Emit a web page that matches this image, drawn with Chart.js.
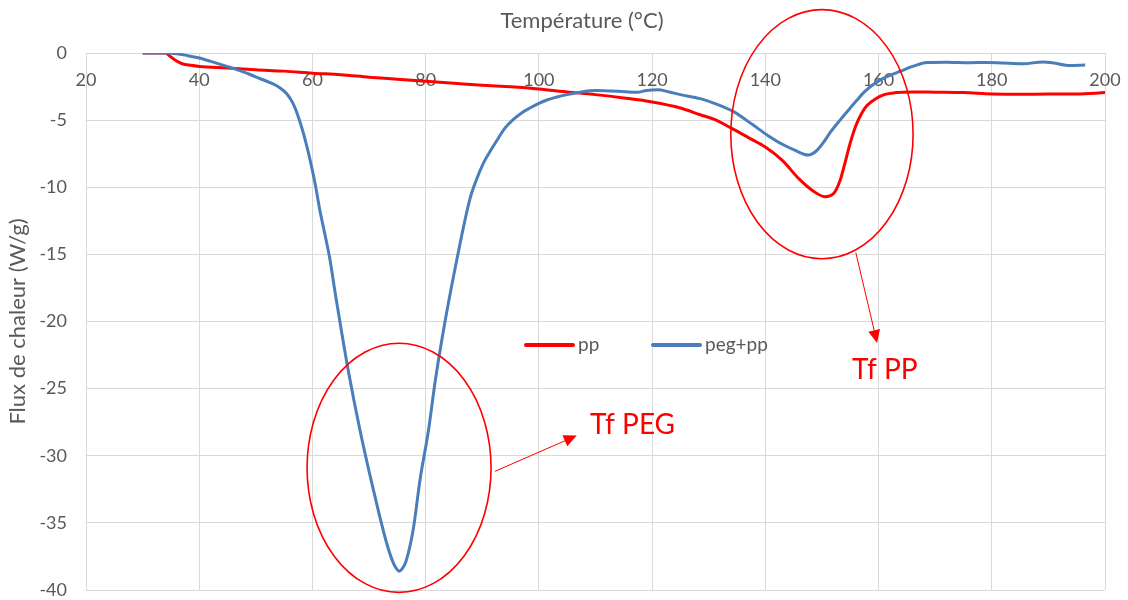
<!DOCTYPE html>
<html><head><meta charset="utf-8">
<script src="https://cdn.jsdelivr.net/npm/chart.js@4/dist/chart.umd.min.js"></script>
<style>html,body{margin:0;padding:0;background:#fff}#wrap{width:1128px;height:600px}</style>
</head><body><div id="wrap"><canvas id="c" width="1128" height="600"></canvas></div>
<script>
// ---- data ----
const seriesNames = ['pp', 'peg+pp'];
const ppTemp = [30,34,35,36,37,38.5,40,45,50,55,60,65,70,75,80,85,90,95,100,105,110,115,120,125,128.5,131,134,137,140,143,146,148.5,150.5,152,153.2,154,155,156,157,158,159.5,161,163,166,170,175,180,185,190,195,200];
const ppFlux = [0,0,-0.3,-0.6,-0.8,-0.92,-1.0,-1.12,-1.25,-1.35,-1.5,-1.62,-1.8,-1.95,-2.1,-2.25,-2.4,-2.52,-2.68,-2.9,-3.1,-3.35,-3.65,-4.1,-4.6,-4.95,-5.6,-6.3,-7.0,-8.0,-9.4,-10.3,-10.7,-10.5,-9.5,-8.3,-6.7,-5.4,-4.5,-3.9,-3.4,-3.1,-2.95,-2.9,-2.92,-2.95,-3.05,-3.08,-3.05,-3.05,-2.95];
const pegTemp = [30,34,36,38,40,43,46,49,50.7,52.5,54.3,55.5,56.5,57.3,58,58.8,59.6,60.5,61.3,62.2,63.1,64.1,65.2,66.3,68.4,70.8,73.1,74.3,74.9,75.3,75.8,76.5,77.8,79.0,80.5,81.7,83.0,85.5,87.8,89,90.2,91.5,92.6,94,95.5,97,98.4,100,101.4,103,105,107.5,110,114,117.3,119,121,123,125,128.5,131,134.3,137.8,140.3,143,145,147.6,149,150.2,151.5,153.2,155,156.2,157.5,159,161,163.8,166,168.6,172,176,179.2,182,185.5,189,191,193.8,196.5];
const pegFlux = [0,0,-0.05,-0.2,-0.37,-0.75,-1.15,-1.6,-1.9,-2.2,-2.6,-3.05,-3.7,-4.5,-5.4,-6.6,-8.0,-9.8,-11.7,-13.5,-15.4,-18.1,-20.9,-23.6,-28.1,-32.6,-36.5,-38.0,-38.45,-38.6,-38.45,-37.9,-35.5,-31.8,-28.1,-24.4,-21.0,-15.4,-10.9,-9.4,-8.2,-7.25,-6.5,-5.6,-4.95,-4.45,-4.1,-3.75,-3.5,-3.3,-3.1,-2.9,-2.8,-2.85,-2.93,-2.8,-2.74,-2.9,-3.1,-3.4,-3.75,-4.35,-5.35,-6.1,-6.8,-7.2,-7.6,-7.3,-6.7,-5.9,-5.0,-4.1,-3.5,-2.9,-2.36,-1.85,-1.37,-1.0,-0.7,-0.68,-0.72,-0.7,-0.75,-0.8,-0.67,-0.75,-0.94,-0.9];
const xTitle = 'Température (°C)';
const yTitle = 'Flux de chaleur (W/g)';
const noteLabels = ['Tf PEG', 'Tf PP'];

// ---- annotation geometry (in data units) ----
const notes = [
  { ellipse: {x: 75.3, y: -30.9, rx: 16.25, ry: 9.28}, arrow: {x1: 92.3, y1: -31.15, x2: 106.7, y2: -28.5}, text: {x: 109.05, y: -27.7}, label: noteLabels[0] },
  { ellipse: {x: 150.0, y: -6.05, rx: 16.1, ry: 9.28}, arrow: {x1: 156.0, y1: -14.9, x2: 159.75, y2: -21.6}, text: {x: 155.3, y: -23.6}, label: noteLabels[1] }
];

const toPts = (xs, ys) => xs.map((x, i) => ({x, y: ys[i]}));
const FONT = 'Lato, "Open Sans", sans-serif';
const GRAY = '#595959';
const GRID = '#D9D9D9';
const colors = ['#FF0000', '#4A7EBB'];

const overlay = {
  id: 'overlay',
  afterDraw(chart) {
    const ctx = chart.ctx, xs = chart.scales.x, ys = chart.scales.y;
    ctx.save();
    // top axis title
    ctx.fillStyle = GRAY;
    ctx.font = '22px ' + FONT;
    ctx.textAlign = 'center';
    ctx.textBaseline = 'middle';
    ctx.fillText(xTitle, 582, 21);
    // legend
    const leg = [{x: 526, y: 345}, {x: 653, y: 345}];
    chart.data.datasets.forEach((ds, i) => {
      ctx.strokeStyle = ds.borderColor;
      ctx.lineWidth = 4;
      ctx.lineCap = 'round';
      ctx.beginPath();
      ctx.moveTo(leg[i].x, leg[i].y);
      ctx.lineTo(leg[i].x + 47, leg[i].y);
      ctx.stroke();
      ctx.fillStyle = GRAY;
      ctx.textAlign = 'left';
      ctx.font = '19px ' + FONT;
      ctx.fillText(ds.label, leg[i].x + 52, leg[i].y);
    });
    // annotations
    notes.forEach(n => {
      const cx = xs.getPixelForValue(n.ellipse.x), cy = ys.getPixelForValue(n.ellipse.y);
      const rx = Math.abs(xs.getPixelForValue(n.ellipse.x + n.ellipse.rx) - cx);
      const ry = Math.abs(ys.getPixelForValue(n.ellipse.y + n.ellipse.ry) - cy);
      ctx.strokeStyle = '#FF0000';
      ctx.lineWidth = 1.6;
      ctx.beginPath();
      ctx.ellipse(cx, cy, rx, ry, 0, 0, Math.PI * 2);
      ctx.stroke();
      const x1 = xs.getPixelForValue(n.arrow.x1), y1 = ys.getPixelForValue(n.arrow.y1);
      const x2 = xs.getPixelForValue(n.arrow.x2), y2 = ys.getPixelForValue(n.arrow.y2);
      const ang = Math.atan2(y2 - y1, x2 - x1);
      const hl = 13, hw = 6;
      const bx = x2 - hl * Math.cos(ang), by = y2 - hl * Math.sin(ang);
      ctx.lineWidth = 1;
      ctx.beginPath();
      ctx.moveTo(x1, y1); ctx.lineTo(bx, by); ctx.stroke();
      ctx.fillStyle = '#FF0000';
      ctx.beginPath();
      ctx.moveTo(x2, y2);
      ctx.lineTo(bx + hw * Math.sin(ang), by - hw * Math.cos(ang));
      ctx.lineTo(bx - hw * Math.sin(ang), by + hw * Math.cos(ang));
      ctx.closePath(); ctx.fill();
      ctx.font = '28px ' + FONT;
      ctx.textAlign = 'left';
      ctx.textBaseline = 'middle';
      ctx.fillText(n.label, xs.getPixelForValue(n.text.x), ys.getPixelForValue(n.text.y));
    });
    ctx.restore();
  }
};

new Chart(document.getElementById('c'), {
  type: 'line',
  data: {
    datasets: [
      { label: seriesNames[0], data: toPts(ppTemp, ppFlux), borderColor: colors[0], backgroundColor: colors[0], borderWidth: 3, pointRadius: 0, cubicInterpolationMode: 'monotone', order: 1 },
      { label: seriesNames[1], data: toPts(pegTemp, pegFlux), borderColor: colors[1], backgroundColor: colors[1], borderWidth: 3, pointRadius: 0, cubicInterpolationMode: 'monotone', order: 0 }
    ]
  },
  options: {
    responsive: false,
    animation: false,
    devicePixelRatio: 1,
    layout: { padding: { top: 53, right: 23, bottom: 10, left: 0 } },
    plugins: { legend: { display: false }, tooltip: { enabled: false } },
    scales: {
      x: {
        type: 'linear', min: 20, max: 200,
        position: { y: 0 },
        afterFit: s => { s.height = 0; s.paddingLeft = 0; s.paddingRight = 0; },
        ticks: { stepSize: 20, color: GRAY, font: { family: FONT, size: 18 }, padding: 16, maxRotation: 0 },
        grid: { color: GRID, drawTicks: false, lineWidth: 1 },
        border: { color: GRID }
      },
      y: {
        type: 'linear', min: -40, max: 0,
        position: 'left',
        afterFit: s => { s.width = 86; s.paddingTop = 0; s.paddingBottom = 0; },
        ticks: { stepSize: 5, color: GRAY, font: { family: FONT, size: 18 }, padding: 19 },
        grid: { color: GRID, drawTicks: false, lineWidth: 1 },
        border: { color: GRID },
        title: { display: true, text: yTitle, color: GRAY, font: { family: FONT, size: 22 }, padding: { top: 5, bottom: 4 } }
      }
    }
  },
  plugins: [overlay]
});
</script></body></html>
